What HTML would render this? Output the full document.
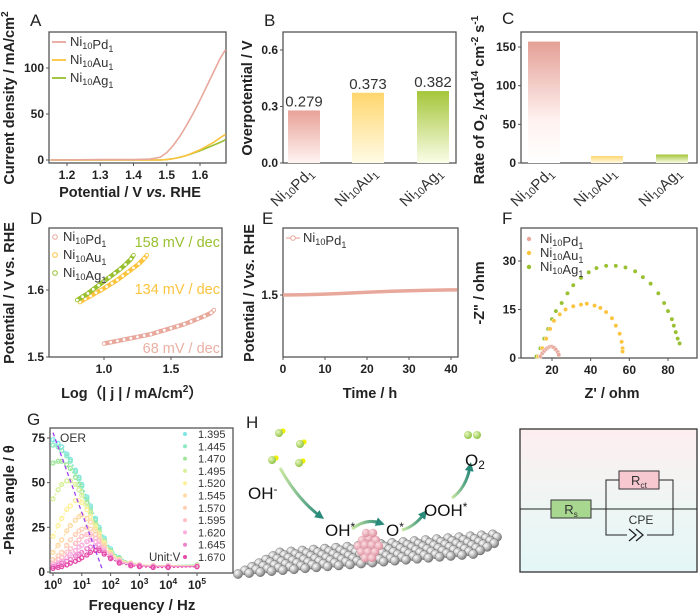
<!DOCTYPE html>
<html><head><meta charset="utf-8"><style>
html,body{margin:0;padding:0;background:#fff;}
svg{display:block;font-family:"Liberation Sans",Arial,sans-serif;}
.tk{font-size:12px;font-weight:bold;fill:#222;}
.ti{font-size:14.5px;font-weight:bold;fill:#222;}
.lg{font-size:13px;fill:#333;}
.pl{font-size:17px;fill:#222;}
</style></head><body>
<svg id="fig" width="700" height="616" viewBox="0 0 700 616" xmlns="http://www.w3.org/2000/svg">
<defs>
<linearGradient id="gPd" x1="0" y1="0" x2="0" y2="1"><stop offset="0" stop-color="#e8a298"/><stop offset="1" stop-color="#fff4f2"/></linearGradient>
<linearGradient id="gAu" x1="0" y1="0" x2="0" y2="1"><stop offset="0" stop-color="#ffd66e"/><stop offset="1" stop-color="#fffbe6"/></linearGradient>
<linearGradient id="gAg" x1="0" y1="0" x2="0" y2="1"><stop offset="0" stop-color="#a5c63a"/><stop offset="1" stop-color="#fafde8"/></linearGradient>
<linearGradient id="gPdC" x1="0" y1="0" x2="0" y2="1"><stop offset="0" stop-color="#e4a096"/><stop offset="0.65" stop-color="#fff2f0"/><stop offset="1" stop-color="#fff"/></linearGradient>
<linearGradient id="gCirc" x1="0" y1="0" x2="0" y2="1"><stop offset="0" stop-color="#fdeef0"/><stop offset="0.55" stop-color="#eef6f4"/><stop offset="1" stop-color="#e4f6f6"/></linearGradient>
<radialGradient id="gSph" cx="0.35" cy="0.35" r="0.7"><stop offset="0" stop-color="#fff"/><stop offset="0.6" stop-color="#b0b0b0"/><stop offset="1" stop-color="#707070"/></radialGradient>
<radialGradient id="gPink" cx="0.35" cy="0.35" r="0.7"><stop offset="0" stop-color="#ffe0e6"/><stop offset="1" stop-color="#d88a98"/></radialGradient>
<radialGradient id="gMol" cx="0.35" cy="0.35" r="0.7"><stop offset="0" stop-color="#e8f8c0"/><stop offset="1" stop-color="#8cc040"/></radialGradient>
<linearGradient id="gArr" x1="0" y1="0" x2="1" y2="0"><stop offset="0" stop-color="#c8e8a0"/><stop offset="1" stop-color="#2a8a7a"/></linearGradient>
<marker id="ah" markerUnits="userSpaceOnUse" markerWidth="9" markerHeight="9" refX="4" refY="4.5" orient="auto"><path d="M0,0 L9,4.5 L0,9 Z" fill="#2a8a7a"/></marker>
</defs>
</svg>
<script>
// ---------- DATA ----------
const aPotential = [1.15,1.30,1.40,1.45,1.48,1.50,1.52,1.54,1.56,1.58,1.60,1.62,1.64,1.66,1.677];
const aPd = [0,0.5,0.5,1,3,8,16,26,38,51,65,80,95,110,120];
const aAu = [0,0,0,0,0,0.5,1.5,3,5,8,11,15,19,24,28];
const aAg = [0,0,0,0,0,0.5,1.5,3,5,7.5,10,13,16,19,22];
const aXTicks = [1.2,1.3,1.4,1.5,1.6];
const aYTicks = [0,50,100];
const bCats = ["Pd","Au","Ag"];
const bValues = [0.279,0.373,0.382];
const bLabels = ["0.279","0.373","0.382"];
const bYTicks = [0.0,0.3,0.6];
const cValues = [157,9,11];
const cYTicks = [0,50,100,150];
const dPdX = [1.00,1.05,1.10,1.15,1.20,1.25,1.30,1.35,1.40,1.45,1.50,1.55,1.60,1.65,1.70,1.75,1.80,1.82];
const dPdY = [1.520,1.522,1.524,1.526,1.528,1.530,1.532,1.534,1.537,1.540,1.543,1.546,1.549,1.553,1.557,1.561,1.566,1.570];
const dAuX = [0.82,0.86,0.90,0.94,0.98,1.02,1.06,1.10,1.14,1.18,1.22,1.26,1.30,1.32];
const dAuY = [1.582,1.587,1.591,1.596,1.600,1.605,1.610,1.615,1.621,1.627,1.633,1.639,1.647,1.652];
const dAgX = [0.80,0.84,0.88,0.92,0.96,1.00,1.04,1.08,1.12,1.16,1.20,1.22];
const dAgY = [1.585,1.590,1.595,1.601,1.607,1.613,1.619,1.625,1.631,1.638,1.646,1.652];
const dXTicks = [1.0,1.5];
const dYTicks = [1.5,1.6];
const eTime = [0,5,10,15,20,25,30,35,40,41.5];
const ePot = [1.500,1.501,1.503,1.506,1.509,1.512,1.514,1.516,1.517,1.517];
const eXTicks = [0,10,20,30,40];
const fPdX = [14,15,16,17,18,19,20,21,22,23,23.5];
const fPdY = [0.5,1.5,2.2,2.8,3.2,3.5,3.5,3.2,2.6,1.8,1];
const fAuX = [13,15,17,19,21,24,27,31,35,38,42,45,48,51,53,55,56,56.5,56.5];
const fAuY = [0.5,3,6,9,11.5,13.5,15,16,16.5,16.8,16.2,15.5,14.2,12.3,10,7.5,5,3,2];
const fAgX = [12,14,16,18,20,22,25,28,31,35,39,43,48,53,58,63,67,71,75,78,80,82,83,84,85,86];
const fAgY = [0.5,3,6,9,12,14.5,17,20,22.5,24.8,26.5,27.8,28.5,28.5,28,26.8,25,23,20,17,14.5,12,10,8,6,4.5];
const fXTicks = [20,40,60,80];
const fYTicks = [0,15,30];
const gFreq = [1,1.5,2,3,4,6,8,10,15,20,30,40,60,100,200,500,1000,3000,10000,100000];
const gVolts = ["1.395","1.445","1.470","1.495","1.520","1.545","1.570","1.595","1.620","1.645","1.670"];
const gPhase = [
[74,72,70,66,63,57,53,49,42,37,30,25,19,13,8,5,4,3.5,3.5,4],
[71,70,68,65,62,56,52,48,41,36,29,24,18,12,8,5,4,3.5,3.5,4],
[61,62,62,60,58,53,49,45,39,34,27,23,17,12,7.5,5,4,3.5,3.5,4],
[41,46,49,51,51,49,46,43,37,33,26,22,17,11,7,5,4,3.5,3.5,3.5],
[20,26,30,35,37,40,40,39,35,31,25,21,16,11,7,5,4,3.5,3.5,3.5],
[11,15,18,23,26,29,31,32,30,28,23,20,15,10,7,5,4,3.5,3.5,3.5],
[7,9,11,15,18,21,23,24,25,24,21,18,14,10,6.5,4.5,4,3.5,3.5,3.5],
[5,7,8,11,13,16,18,20,21,21,19,17,13,9,6,4.5,4,3.5,3.5,3.5],
[4,5,6,8,10,12,14,15,17,18,17,15,12,9,6,4.5,3.5,3,3,3],
[3,4,5,6,7,9,10,11,13,14,14,13,11,8,5.5,4,3.5,3,3,3],
[2,2.5,3,4,5,6,7,8,9.5,11,12,12,10,7.5,5,3.5,3,2.5,2.5,3]];
const gXTickExp = [0,1,2,3,4,5];
const gYTicks = [0,25,50,75];

// ---------- HELPERS ----------
const NS = "http://www.w3.org/2000/svg";
const svg = document.getElementById('fig');
function mk(tag, attrs, parent) {
  const e = document.createElementNS(NS, tag);
  for (const k in attrs) e.setAttribute(k, attrs[k]);
  (parent || svg).appendChild(e);
  return e;
}
function fs(el, n) { el.style.fontSize = n + 'px'; return el; }
function lin(d0, d1, r0, r1) { return v => r0 + (v - d0) * (r1 - r0) / (d1 - d0); }
function txt(x, y, s, cls, anchor, parent) {
  const t = mk('text', {x: x, y: y, class: cls, 'text-anchor': anchor || 'middle'}, parent);
  t.innerHTML = s;
  return t;
}
const SUB = (a) => `<tspan font-size="0.7em" dy="3">${a}</tspan><tspan dy="-3"></tspan>`;
function ni(m) { return `Ni${SUB('10')}${m}${SUB('1')}`; }
function frame(x0, y0, x1, y1, name) {
  const r = mk('rect', {x: x0, y: y0, width: x1 - x0, height: y1 - y0, fill: 'none', stroke: '#555', 'stroke-width': 1.3});
  
  
}
function yTicks(vals, sc, x0, fmt) {
  vals.forEach(v => {
    const l = mk('line', {x1: x0 - 3, x2: x0, y1: sc(v), y2: sc(v), stroke: '#555'});
    
    
    const t = txt(x0 - 5, sc(v) + 4, fmt ? fmt(v) : String(v), 'tk', 'end');
    
    
  });
}
function xTicks(vals, sc, y0, fmt) {
  vals.forEach(v => {
    const l = mk('line', {x1: sc(v), x2: sc(v), y1: y0, y2: y0 + 3, stroke: '#555'});
    
    
    const t = txt(sc(v), y0 + 16, fmt ? fmt(v) : String(v), 'tk', 'middle');
    
    
  });
}
function yTitle(x, y, s, name) {
  const t = txt(x, y, s, 'ti', 'middle');
  t.setAttribute('transform', `rotate(-90 ${x} ${y})`);
  
  
}
function label(x, y, s) {
  const t = txt(x, y, s, 'pl', 'start');
  
  
}
function pts(xs, ys, sx, sy) { return xs.map((v, i) => sx(v) + ',' + sy(ys[i])).join(' '); }
const colPd = '#e8a89c', colAu = '#fcc43e', colAg = '#98c030';

// ---------- PANEL A ----------
label(30, 26, 'A');
const xA = lin(1.2, 1.6, 67, 200), yA = lin(0, 100, 160, 68);
frame(49, 32, 226, 163, 'panel-a-frame');
yTicks(aYTicks, yA, 49);
xTicks(aXTicks, xA, 163, v => v.toFixed(1));
[[aAg, colAg, 'ag'], [aAu, colAu, 'au'], [aPd, colPd, 'pd']].forEach(s => {
  const p = mk('polyline', {points: pts(aPotential, s[0], xA, yA), fill: 'none', stroke: s[1], 'stroke-width': 1.6});
  
  
});
[['Pd', colPd], ['Au', colAu], ['Ag', colAg]].forEach((s, i) => {
  const y = 46 + i * 18;
  const l = mk('line', {x1: 52, x2: 66, y1: y - 4, y2: y - 4, stroke: s[1], 'stroke-width': 1.8});
  
  
  const t = txt(70, y, ni(s[0]), 'lg', 'start');
  
  
});
yTitle(14, 98, 'Current density / mA/cm<tspan font-size="0.7em" dy="-6">2</tspan>', 'y-axis-title-a');
{ const t = txt(130, 197, 'Potential / V <tspan font-style="italic">vs.</tspan> RHE', 'ti');
    }

// ---------- PANEL B ----------
label(264, 26, 'B');
const yB = lin(0, 0.6, 163, 50);
frame(283, 32, 456, 163, 'panel-b-frame');
yTicks(bYTicks, yB, 283, v => v.toFixed(1));
const bCenters = [304, 368, 433];
const bFills = ['url(#gPd)', 'url(#gAu)', 'url(#gAg)'];
bValues.forEach((v, i) => {
  const r = mk('rect', {x: bCenters[i] - 16, y: yB(v), width: 32, height: yB(0) - yB(v), fill: bFills[i]});
  
  
  const t = fs(txt(bCenters[i], yB(v) - 4, bLabels[i], 'lg', 'middle'), 15);
  
  
  const c = fs(txt(bCenters[i] + 8, 172, ni(bCats[i]), 'lg', 'end'), 15);
  c.setAttribute('transform', `rotate(-45 ${bCenters[i] + 8} 172)`);
  
  
});
yTitle(252, 98, 'Overpotential / V', 'y-axis-title-b');

// ---------- PANEL C ----------
label(502, 24, 'C');
const yC = lin(0, 150, 163, 47);
frame(521, 32, 697, 163, 'panel-c-frame');
yTicks(cYTicks, yC, 521);
const cCenters = [544, 607, 672];
const cFills = ['url(#gPdC)', 'url(#gAu)', 'url(#gAg)'];
cValues.forEach((v, i) => {
  const r = mk('rect', {x: cCenters[i] - 16, y: yC(v), width: 32, height: yC(0) - yC(v), fill: cFills[i]});
  
  
  const c = fs(txt(cCenters[i] + 8, 172, ni(bCats[i]), 'lg', 'end'), 15);
  c.setAttribute('transform', `rotate(-45 ${cCenters[i] + 8} 172)`);
  
  
});
yTitle(484, 100, 'Rate of O<tspan font-size="0.7em" dy="3">2</tspan><tspan dy="-3"> /x10</tspan><tspan font-size="0.7em" dy="-6">14</tspan><tspan dy="6"> cm</tspan><tspan font-size="0.7em" dy="-6">-2</tspan><tspan dy="6"> s</tspan><tspan font-size="0.7em" dy="-6">-1</tspan>', 'y-axis-title-c');

// ---------- PANEL D ----------
label(30, 224, 'D');
const xD = lin(1.0, 1.5, 104, 171), yD = lin(1.5, 1.6, 357, 290);
frame(49, 228, 222, 357, 'panel-d-frame');
yTicks(dYTicks, yD, 49, v => v.toFixed(1));
xTicks(dXTicks, xD, 357, v => v.toFixed(1));
[[dAuX, dAuY, colAu, 'au'], [dAgX, dAgY, colAg, 'ag'], [dPdX, dPdY, colPd, 'pd']].forEach(s => {
  const p = mk('polyline', {points: pts(s[0], s[1], xD, yD), fill: 'none', stroke: s[2], 'stroke-width': 4.5, 'stroke-linecap': 'round'});
  
  
  s[0].forEach((v, i) => {
    const c = mk('circle', {cx: xD(v), cy: yD(s[1][i]), r: 1.4, fill: '#fff', stroke: 'none'});
    
    
  });
});
[['Pd', colPd], ['Au', colAu], ['Ag', colAg]].forEach((s, i) => {
  const y = 241 + i * 18;
  const c = mk('circle', {cx: 55, cy: y - 4, r: 2.3, fill: 'none', stroke: s[1]});
  
  
  const t = txt(63, y, ni(s[0]), 'lg', 'start');
  
  
});
[['158 mV / dec', colAg, 247], ['134 mV / dec', colAu, 294], ['68 mV / dec', '#eab0a4', 353]].forEach((s, i) => {
  const t = txt(220, s[2], s[0], 'lg', 'end');
  t.setAttribute('style', 'fill:' + s[1] + ';font-size:14.5px');
  
  
});
yTitle(14, 293, 'Potential / V vs. RHE', 'y-axis-title-d');
{ const t = txt(132, 398, 'Log（| j | / mA/cm<tspan font-size="0.7em" dy="-6">2</tspan><tspan dy="6">）</tspan>', 'ti');
    }

// ---------- PANEL E ----------
label(262, 224, 'E');
const xE = lin(0, 40, 283, 451), yE = lin(1.4, 1.6, 325, 265);
frame(283, 228, 458, 357, 'panel-e-frame');
yTicks([1.5], yE, 283, v => v.toFixed(1));
xTicks(eXTicks, xE, 357);
{ const p = mk('polyline', {points: pts(eTime, ePot, xE, yE), fill: 'none', stroke: '#e8a89c', 'stroke-width': 3.5});
    }
{ const l = mk('line', {x1: 286, x2: 300, y1: 238, y2: 238, stroke: colPd, 'stroke-width': 1.2});
   
  const c = mk('circle', {cx: 293, cy: 238, r: 2.3, fill: '#fff', stroke: colPd});
   
  const t = txt(303, 242, ni('Pd'), 'lg', 'start');
    }
yTitle(254, 293, 'Potential / V<tspan font-style="italic">vs.</tspan> RHE', 'y-axis-title-e');
{ const t = txt(370, 398, 'Time / h', 'ti');
    }

// ---------- PANEL F ----------
label(502, 224, 'F');
const xF = lin(20, 80, 552, 668), yF = lin(0, 30, 358, 261);
frame(521, 228, 697, 358, 'panel-f-frame');
yTicks(fYTicks, yF, 521);
xTicks(fXTicks, xF, 358);
[[fAgX, fAgY, colAg, 'ag'], [fAuX, fAuY, colAu, 'au'], [fPdX, fPdY, colPd, 'pd']].forEach(s => {
  s[0].forEach((v, i) => {
    const c = mk('circle', {cx: xF(v), cy: yF(s[1][i]), r: 2.2, fill: s[2], stroke: '#fff', 'stroke-width': 0.5});
    
    
  });
});
[['Pd', colPd], ['Au', colAu], ['Ag', colAg]].forEach((s, i) => {
  const y = 243 + i * 14;
  const c = mk('circle', {cx: 529, cy: y - 4, r: 2.2, fill: s[1]});
  
  
  const t = txt(540, y, ni(s[0]), 'lg', 'start');
  
  
});
yTitle(484, 293, '-Z" / ohm', 'y-axis-title-f');
{ const t = txt(612, 398, "Z' / ohm", 'ti');
    }

// ---------- PANEL G ----------
label(27, 425, 'G');
const xG = lin(0, 5, 53, 197), yG = lin(0, 75, 572, 438);
const gCols = ['#7ee6e6','#8ceac4','#9ee69a','#d8f09c','#fff09a','#ffdaa6','#ffd0b6','#ffc0c6','#fbaede','#ee84cc','#e44aa8'];
frame(50, 428, 233, 573, 'panel-g-frame');
yTicks(gYTicks, yG, 50);
gXTickExp.forEach(e => {
  const l = mk('line', {x1: xG(e), x2: xG(e), y1: 573, y2: 576, stroke: '#555'});
  
  
  const t = txt(xG(e), 589, `10<tspan font-size="0.7em" dy="-5">${e}</tspan>`, 'tk', 'middle');
  
  
});
gPhase.forEach((series, si) => {
  const pl = mk('polyline', {points: series.map((v, i) => xG(Math.log10(gFreq[i])) + ',' + yG(v)).join(' '), fill: 'none', stroke: gCols[si], 'stroke-width': 1.2, 'stroke-dasharray': '2,2'});
  
  
  series.forEach((v, i) => {
    const c = mk('circle', {cx: xG(Math.log10(gFreq[i])), cy: yG(v), r: 2, fill: 'none', stroke: gCols[si], 'stroke-width': 1.3});
    
    
  });
  const y = 438 + si * 12.3;
  const m = mk('circle', {cx: 185, cy: y - 4, r: 2, fill: gCols[si]});
  
  
  const t = fs(txt(198, y, gVolts[si], 'lg', 'start'), 11);
  
  
});
{ const d = mk('line', {x1: xG(0), y1: yG(78), x2: xG(1.7), y2: yG(2), stroke: '#a040f0', 'stroke-width': 1.3, 'stroke-dasharray': '4,3'});
   
  const t = fs(txt(60, 442, 'OER', 'lg', 'start'), 12);
   
  const u = fs(txt(149, 561, 'Unit:V', 'lg', 'start'), 11.5);
    }
yTitle(14, 500, '-Phase angle / θ', 'y-axis-title-g');
{ const t = fs(txt(142, 610, 'Frequency / Hz', 'ti'), 15);
    }

// ---------- PANEL H (schematic) ----------
label(246, 428, 'H');
const hG = mk('g', {});


for (let r = 6; r >= 0; r--) {
  for (let c = 0; c < 22; c++) {
    const cx = 238 + r * 7 + c * 11.2;
    const cy = 574 - r * 3.6 - c * 0.95;
    if (cx > 500) continue;
    mk('circle', {cx: cx, cy: cy, r: 4.6, fill: 'url(#gSph)', stroke: '#666', 'stroke-width': 0.4}, hG);
  }
}
const pk = mk('g', {});


[[362,540],[369,538],[376,540],[358,546],[365,545],[372,545],[379,546],[361,552],[368,552],[375,552],[365,558],[372,558],[366,533],[373,533]].forEach(p => {
  mk('circle', {cx: p[0], cy: p[1], r: 4.2, fill: 'url(#gPink)'}, pk);
});
const mols = mk('g', {});


[[279,433],[300,444],[272,460],[299,463]].forEach(p => {
  mk('circle', {cx: p[0] + 4, cy: p[1] - 2, r: 2.6, fill: '#f0f000'}, mols);
  mk('circle', {cx: p[0], cy: p[1], r: 4, fill: 'url(#gMol)'}, mols);
});
mk('circle', {cx: 468, cy: 435, r: 4, fill: 'url(#gMol)'}, mols);
mk('circle', {cx: 477, cy: 435, r: 4, fill: 'url(#gMol)'}, mols);
const arrows = mk('g', {fill: 'none', stroke: 'url(#gArr)', 'stroke-width': 3, 'marker-end': 'url(#ah)'});


mk('path', {d: 'M280,468 Q298,500 320,516'}, arrows);
mk('path', {d: 'M352,529 Q366,518 380,523'}, arrows);
mk('path', {d: 'M402,530 Q414,527 424,514'}, arrows);
mk('path', {d: 'M452,498 Q466,488 470,467'}, arrows);
[['OH<tspan font-size="0.7em" dy="-6">-</tspan>', 248, 499, 'oh-minus'], ['OH<tspan font-size="0.7em" dy="-5">*</tspan>', 325, 536, 'oh-star'], ['O<tspan font-size="0.7em" dy="-5">*</tspan>', 386, 536, 'o-star'], ['OOH<tspan font-size="0.7em" dy="-5">*</tspan>', 424, 516, 'ooh-star'], ['O<tspan font-size="0.7em" dy="3">2</tspan>', 465, 466, 'o2']].forEach(s => {
  const t = txt(s[1], s[2], s[0], 'lg', 'start');
  t.setAttribute('style', 'fill:#111;font-size:17px');
  
  
});

// ---------- Equivalent circuit ----------
const cg = mk('g', {});


mk('rect', {x: 520, y: 429, width: 177, height: 143, fill: 'url(#gCirc)', stroke: '#333', 'stroke-width': 1.3}, cg);
mk('line', {x1: 520, x2: 697, y1: 509, y2: 509, stroke: '#222', 'stroke-width': 1}, cg);
mk('polyline', {points: '606,509 606,480 673,480 673,509', fill: 'none', stroke: '#222'}, cg);
mk('polyline', {points: '606,509 606,535 673,535 673,509', fill: 'none', stroke: '#222'}, cg);
{ const r = mk('rect', {x: 551, y: 500, width: 40, height: 18, fill: '#a8d890', stroke: '#333'}, cg);
   
  const r2 = mk('rect', {x: 619, y: 471, width: 40, height: 18, fill: '#f8c8d0', stroke: '#333'}, cg);
   
  mk('rect', {x: 627, y: 530, width: 20, height: 10, fill: '#e8f6f6', stroke: 'none'}, cg);
  mk('path', {d: 'M629,529 L636,535 L629,541 M636,529 L643,535 L636,541', fill: 'none', stroke: '#222', 'stroke-width': 1.3}, cg); }
{ const t1 = fs(txt(571, 514, 'R<tspan font-size="0.65em" dy="3">s</tspan>', 'lg', 'middle', cg), 13);
   
  const t2 = fs(txt(639, 485, 'R<tspan font-size="0.65em" dy="3">ct</tspan>', 'lg', 'middle', cg), 13);
    }
{ const t = fs(txt(641, 524, 'CPE', 'lg', 'middle', cg), 12);
    }
</script>
</body></html>
